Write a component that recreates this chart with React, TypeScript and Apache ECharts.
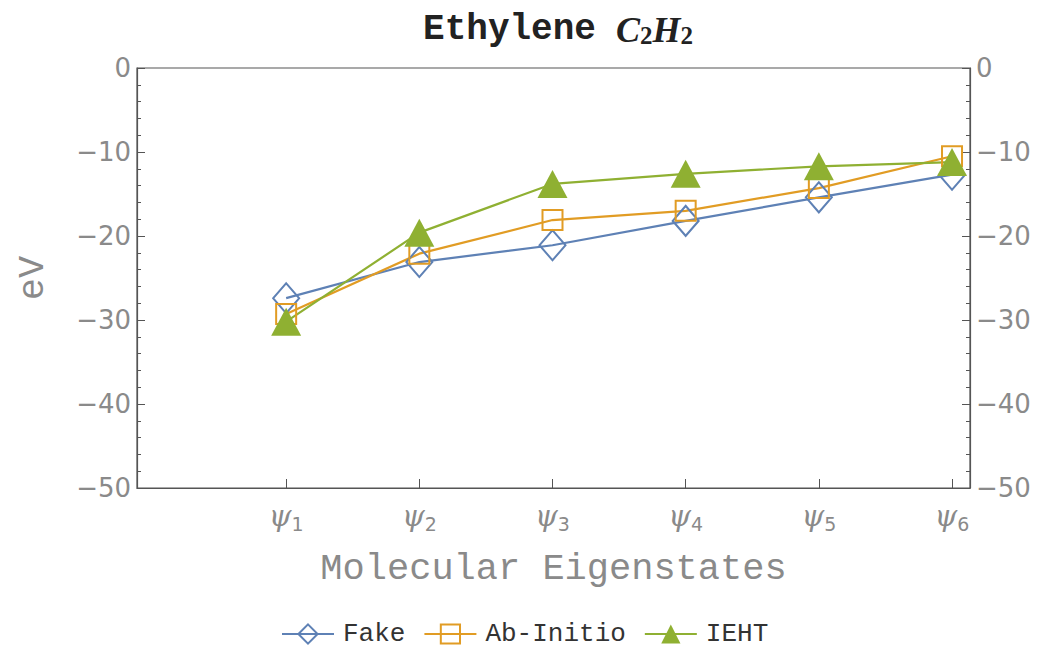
import React, { useEffect, useRef } from "react";
import * as echarts from "echarts";

const categories = ["1", "2", "3", "4", "5", "6"];
const fake = [-27.4, -23.1, -21.1, -18.2, -15.4, -12.7];
const abInitio = [-29.3, -22.1, -18.1, -17.0, -14.3, -10.5];
const ieht = [-30.2, -19.6, -13.8, -12.6, -11.7, -11.2];

const mono = "'Liberation Mono', 'DejaVu Sans Mono', monospace";
const sans = "'DejaVu Sans', sans-serif";
const serif = "'Liberation Serif', 'DejaVu Serif', serif";
const gray = "#8a8a8a";
const axisColor = "#555";

export default function App() {
  const ref = useRef<HTMLDivElement>(null);
  useEffect(() => {
    const chart = echarts.init(ref.current!, null, { renderer: "svg" });
    const pts = (arr: number[]) => arr.map((v, i) => [i + 1, v]);
    const yLabel = (v: number) => (v === 0 ? "0" : "\u2212" + Math.abs(v));
    const yAxisBase = {
      type: "value",
      min: -50,
      max: 0,
      interval: 10,
      axisLine: { show: true, onZero: false, lineStyle: { color: axisColor, width: 1.2 } },
      axisTick: { show: true, inside: true, length: 8, lineStyle: { color: axisColor } },
      minorTick: { show: true, splitNumber: 5, length: 4, lineStyle: { color: axisColor } },
      splitLine: { show: false },
      axisLabel: {
        formatter: yLabel,
        color: gray,
        fontFamily: sans,
        fontSize: 26,
        margin: 6,
      },
    };
    chart.setOption({
      animation: false,
      backgroundColor: "#fff",
      title: {
        text: "{a|Ethylene}{gap|}{b|C}{c|2}{b|H}{c|2}",
        left: 553,
        textAlign: "center",
        top: 6,
        textStyle: {
          rich: {
            a: { fontFamily: mono, fontWeight: "bold", fontSize: 36, color: "#222" },
            gap: { width: 20 },
            b: { fontFamily: serif, fontStyle: "italic", fontSize: 36, color: "#222" },
            c: { fontFamily: serif, fontSize: 25, color: "#222", padding: [12, 0, 0, 0] },
          },
        },
      },
      grid: {
        left: 137,
        right: 77,
        top: 68,
        bottom: 167,
        show: true,
        borderColor: axisColor,
        borderWidth: 1.2,
      },
      legend: {
        bottom: 3,
        left: 276,
        itemWidth: 52,
        itemHeight: 24,
        itemGap: 18,
        textStyle: { fontFamily: mono, fontSize: 26, color: "#333", padding: [0, 0, 0, 4] },
        data: ["Fake", "Ab-Initio", "IEHT"],
      },
      xAxis: {
        type: "value",
        min: -0.12,
        max: 6.135,
        name: "Molecular Eigenstates",
        nameLocation: "middle",
        nameGap: 62,
        nameTextStyle: { fontFamily: mono, fontSize: 37, color: gray },
        axisLine: { show: true, onZero: false, lineStyle: { color: axisColor, width: 1.2 } },
        axisTick: { show: true, inside: true, length: 9, customValues: [1, 2, 3, 4, 5, 6], lineStyle: { color: axisColor } },
        splitLine: { show: false },
        axisLabel: {
          customValues: [1, 2, 3, 4, 5, 6],
          margin: 10,
          formatter: (v: number) => "{p|\u03c8}{s|" + categories[Math.round(v) - 1] + "}",
          rich: {
            p: { fontFamily: "'DejaVu Serif', serif", fontStyle: "italic", fontSize: 29, color: gray, lineHeight: 36 },
            s: { fontFamily: sans, fontSize: 19, color: gray, lineHeight: 36, padding: [16, 0, 0, 0] },
          },
        },
      },
      yAxis: [
        {
          ...yAxisBase,
          position: "left",
          name: "eV",
          nameLocation: "middle",
          nameGap: 86,
          nameTextStyle: { fontFamily: mono, fontSize: 37, color: gray },
        },
        { ...yAxisBase, position: "right" },
      ],
      series: [
        {
          name: "Fake",
          type: "line",
          data: pts(fake),
          symbol: "diamond",
          symbolSize: [26, 30],
          lineStyle: { width: 2.2, color: "#5E81B5" },
          itemStyle: { color: "rgba(255,255,255,0)", borderColor: "#5E81B5", borderWidth: 2 },
        },
        {
          name: "Ab-Initio",
          type: "line",
          data: pts(abInitio),
          symbol: "rect",
          symbolSize: 20,
          lineStyle: { width: 2.2, color: "#E19C24" },
          itemStyle: { color: "rgba(255,255,255,0)", borderColor: "#E19C24", borderWidth: 2 },
        },
        {
          name: "IEHT",
          type: "line",
          data: pts(ieht),
          symbol: "triangle",
          symbolSize: [30, 28],
          lineStyle: { width: 2.2, color: "#8FB032" },
          itemStyle: { color: "#8FB032" },
        },
      ],
    });
    return () => chart.dispose();
  }, []);
  return <div ref={ref} style={{ width: 1047, height: 655, position: "absolute", left: 0, top: 0 }} />;
}
